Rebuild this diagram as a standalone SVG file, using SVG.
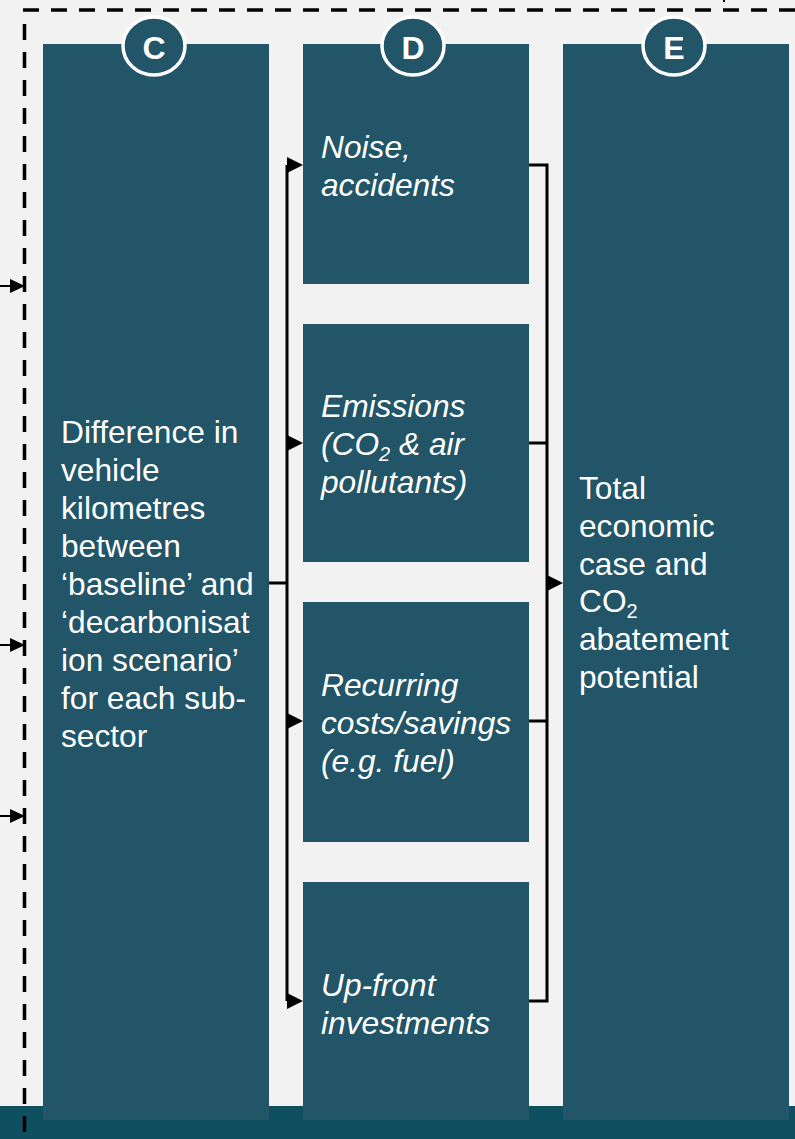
<svg xmlns="http://www.w3.org/2000/svg" width="795" height="1139" viewBox="0 0 795 1139">
  <style>
    .box { fill: #215567; }
    .badge { fill: #215567; stroke: #ffffff; stroke-width: 3.5; }
    .badge-t { font-family: "Liberation Sans", Arial, sans-serif; font-weight: bold; font-size: 32px; fill: #ffffff; text-anchor: middle; }
    .txt { font-family: "Liberation Sans", Arial, sans-serif; font-size: 31.7px; fill: #ffffff; }
    .it { font-style: italic; }
    .sub { font-size: 20px; }
    .dash { fill: none; stroke: #000000; stroke-width: 3.5; stroke-dasharray: 16 12; }
    .wire { fill: none; stroke: #000000; stroke-width: 3; }
    .thin { fill: none; stroke: #000000; stroke-width: 2; }
  </style>
  <defs>
    <polygon id="head" points="0,-8 16,0 0,8" fill="#000000"/>
    <polygon id="head-sm" points="0,-7 15,0 0,7" fill="#000000"/>
  </defs>

  <!-- canvas and footer band -->
  <rect x="0" y="0" width="795" height="1139" fill="#f2f2f2"/>
  <rect x="0" y="1106" width="795" height="33" fill="#0f5060"/>

  <!-- dashed boundary -->
  <g id="boundary">
    <line class="dash" x1="23" y1="10" x2="795" y2="10"/>
    <line class="dash" x1="24.5" y1="24" x2="24.5" y2="1139"/>
    <line class="thin" x1="724" y1="0" x2="724" y2="2"/>
  </g>

  <!-- column C -->
  <g id="node-c">
    <rect class="box" x="43" y="44" width="226" height="1076"/>
    <text class="txt" x="61">
      <tspan x="61" y="443">Difference in</tspan>
      <tspan x="61" y="481">vehicle</tspan>
      <tspan x="61" y="519">kilometres</tspan>
      <tspan x="61" y="557">between</tspan>
      <tspan x="61" y="595">‘baseline’ and</tspan>
      <tspan x="61" y="633">‘decarbonisat</tspan>
      <tspan x="61" y="671">ion scenario’</tspan>
      <tspan x="61" y="709">for each sub-</tspan>
      <tspan x="61" y="747">sector</tspan>
    </text>
    <ellipse class="badge" cx="154" cy="46" rx="31" ry="29"/>
    <text class="badge-t" x="154" y="59">C</text>
  </g>

  <!-- column D -->
  <g id="node-d1">
    <rect class="box" x="303" y="44" width="226" height="240"/>
    <text class="txt it">
      <tspan x="321" y="158">Noise,</tspan>
      <tspan x="321" y="196">accidents</tspan>
    </text>
    <ellipse class="badge" cx="413" cy="46" rx="31" ry="29"/>
    <text class="badge-t" x="413" y="59">D</text>
  </g>
  <g id="node-d2">
    <rect class="box" x="303" y="324" width="226" height="238"/>
    <text class="txt it">
      <tspan x="321" y="417">Emissions</tspan>
      <tspan x="321" y="455">(CO<tspan class="sub" dy="6">2</tspan><tspan dy="-6"> &amp; air</tspan></tspan>
      <tspan x="321" y="493">pollutants)</tspan>
    </text>
  </g>
  <g id="node-d3">
    <rect class="box" x="303" y="602" width="226" height="240"/>
    <text class="txt it">
      <tspan x="321" y="696">Recurring</tspan>
      <tspan x="321" y="734">costs/savings</tspan>
      <tspan x="321" y="772">(e.g. fuel)</tspan>
    </text>
  </g>
  <g id="node-d4">
    <rect class="box" x="303" y="882" width="226" height="238"/>
    <text class="txt it">
      <tspan x="321" y="996">Up-front</tspan>
      <tspan x="321" y="1034">investments</tspan>
    </text>
  </g>

  <!-- column E -->
  <g id="node-e">
    <rect class="box" x="563" y="44" width="226" height="1076"/>
    <text class="txt">
      <tspan x="579" y="499">Total</tspan>
      <tspan x="579" y="537">economic</tspan>
      <tspan x="579" y="575">case and</tspan>
      <tspan x="579" y="612">CO<tspan class="sub" dy="6">2</tspan></tspan>
      <tspan x="579" y="650">abatement</tspan>
      <tspan x="579" y="688">potential</tspan>
    </text>
    <ellipse class="badge" cx="674" cy="46" rx="31" ry="29"/>
    <text class="badge-t" x="674" y="59">E</text>
  </g>

  <!-- connectors -->
  <g id="connectors">
    <!-- inputs into C -->
    <line class="thin" x1="0" y1="286" x2="12" y2="286"/>
    <use href="#head-sm" x="10" y="286"/>
    <line class="thin" x1="0" y1="645" x2="12" y2="645"/>
    <use href="#head-sm" x="10" y="645"/>
    <line class="thin" x1="0" y1="816" x2="12" y2="816"/>
    <use href="#head-sm" x="10" y="816"/>

    <!-- C fans out to the D items -->
    <line class="wire" x1="269" y1="583" x2="287" y2="583"/>
    <line class="wire" x1="287" y1="165" x2="287" y2="1001"/>
    <use href="#head" x="287" y="165"/>
    <use href="#head" x="287" y="443"/>
    <use href="#head" x="287" y="721"/>
    <use href="#head" x="287" y="1001"/>

    <!-- D items gather into E -->
    <path class="wire" d="M529 165 H547 V1001 H529"/>
    <line class="wire" x1="529" y1="443" x2="547" y2="443"/>
    <line class="wire" x1="529" y1="721" x2="547" y2="721"/>
    <use href="#head" x="547" y="583"/>
  </g>
</svg>
